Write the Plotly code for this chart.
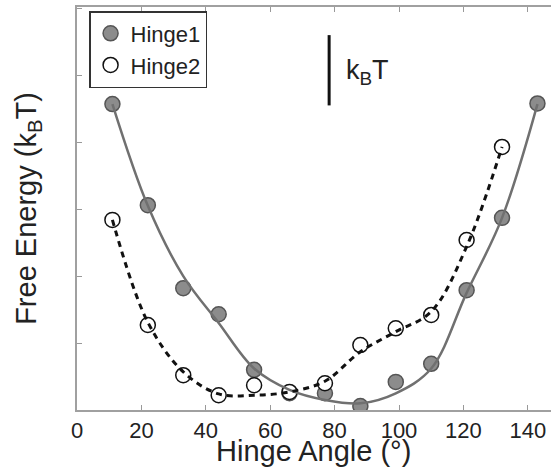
import plotly.graph_objects as go

# Hinge angles (degrees)
angles = [11, 22, 33, 44, 55, 66, 77, 88, 99, 110, 121, 132, 143]

# Free energy data points (kBT)
hinge1_vals = [4.57, 3.06, 1.82, 1.43, 0.60, 0.25, 0.25, 0.06, 0.42, 0.69, 1.79, 2.87, 4.58]
hinge2_angles = [11, 22, 33, 44, 55, 66, 77, 88, 99, 110, 121, 132]
hinge2_vals = [2.84, 1.27, 0.52, 0.22, 0.37, 0.27, 0.40, 0.97, 1.22, 1.42, 2.54, 3.93]

# Fitted curves
hinge1_fit = [4.57, 3.05, 2.0, 1.3, 0.62, 0.3, 0.15, 0.1, 0.25, 0.62, 1.75, 2.87, 4.57]
hinge2_fit = [2.84, 1.31, 0.57, 0.24, 0.22, 0.27, 0.43, 0.87, 1.17, 1.47, 2.44, 3.93]

x_ticks = [0, 20, 40, 60, 80, 100, 120, 140]

FONT = "Liberation Sans, Arial, Helvetica, sans-serif"
TXT = "#222222"

fig = go.Figure()

fig.add_trace(go.Scatter(
    x=angles, y=hinge1_vals, mode="markers", name="Hinge1",
    marker=dict(size=15, color="#8c8c8c", line=dict(color="#555555", width=1.5)),
))
fig.add_trace(go.Scatter(
    x=hinge2_angles, y=hinge2_vals, mode="markers", name="Hinge2",
    marker=dict(size=15, color="white", line=dict(color="#111111", width=1.5)),
))
fig.add_trace(go.Scatter(
    x=angles, y=hinge1_fit, mode="lines", showlegend=False,
    line=dict(color="#707070", width=2.5, shape="spline", smoothing=1.0),
))
fig.add_trace(go.Scatter(
    x=hinge2_angles, y=hinge2_fit, mode="lines", showlegend=False,
    line=dict(color="#111111", width=3, dash="6px,5px", shape="spline", smoothing=1.0),
))

# kBT scale bar
fig.add_shape(type="line", x0=78.3, x1=78.3, y0=4.55, y1=5.6, xref="x", yref="y",
              line=dict(color="#111111", width=3))
fig.add_annotation(x=83.0, y=5.05, xref="x", yref="y", text="k<sub>B</sub>T",
                   showarrow=False, xanchor="left", yanchor="middle",
                   font=dict(family=FONT, size=27, color=TXT))

# x-axis title placed as a paper-anchored label (centred under the visible part)
fig.add_annotation(x=0.49, y=-0.057, xref="paper", yref="paper", text="Hinge Angle (°)",
                   showarrow=False, xanchor="center", yanchor="top",
                   font=dict(family=FONT, size=29, color=TXT))

fig.update_layout(
    width=560, height=474,
    margin=dict(l=77, r=0, t=7, b=64),
    plot_bgcolor="white", paper_bgcolor="white",
    font=dict(family=FONT, color=TXT),
    legend=dict(x=0.025, y=0.99, xanchor="left", yanchor="top",
                bgcolor="white", bordercolor="#333333", borderwidth=1.5,
                font=dict(family=FONT, size=22, color=TXT),
                tracegroupgap=0),
    xaxis=dict(range=[0, 150], tickvals=x_ticks, ticks="inside", ticklen=5,
               tickcolor="#999999", showline=True, linecolor="#a0a0a0", linewidth=2,
               mirror="allticks", showgrid=False, zeroline=False, automargin=False,
               tickfont=dict(family=FONT, size=22, color=TXT)),
    yaxis=dict(range=[0, 6.02], dtick=1, ticks="inside", ticklen=5,
               tickcolor="#999999", showline=True, linecolor="#a0a0a0", linewidth=2,
               showticklabels=False, showgrid=False, zeroline=False, mirror=False,
               automargin=False,
               title=dict(text="Free Energy (k<sub>B</sub>T)",
                          font=dict(family=FONT, size=29, color=TXT), standoff=30)),
)

fig.write_html("out.html", config={"displayModeBar": False},
               post_script="document.body.style.margin='0';document.body.style.overflow='hidden';")
